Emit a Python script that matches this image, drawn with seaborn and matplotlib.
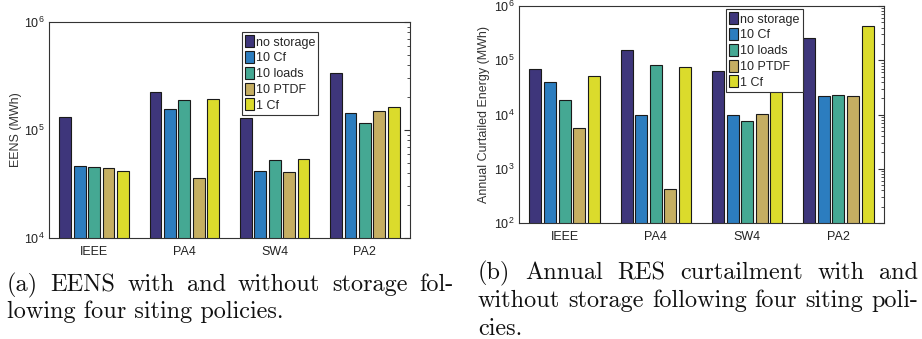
import numpy as np
import pandas as pd
import matplotlib
matplotlib.use("Agg")
import matplotlib.pyplot as plt
import seaborn as sns

# data
systems = ["IEEE", "PA4", "SW4", "PA2"]
policies = ["no storage", "10 Cf", "10 loads", "10 PTDF", "1 Cf"]
colors = ["#352A87", "#1480D7", "#35B89C", "#D5B752", "#F8F80F"]

eens_no_storage = [1.33e5, 2.24e5, 1.28e5, 3.36e5]
eens_10cf = [4.69e4, 1.57e5, 4.21e4, 1.44e5]
eens_10loads = [4.55e4, 1.91e5, 5.25e4, 1.15e5]
eens_10ptdf = [4.43e4, 3.58e4, 4.10e4, 1.50e5]
eens_1cf = [4.21e4, 1.92e5, 5.36e4, 1.65e5]

curt_no_storage = [6.83e4, 1.57e5, 6.28e4, 2.54e5]
curt_10cf = [4.05e4, 9.7e3, 9.7e3, 2.17e4]
curt_10loads = [1.84e4, 8.1e4, 7.65e3, 2.30e4]
curt_10ptdf = [5.53e3, 4.28e2, 1.04e4, 2.20e4]
curt_1cf = [5.08e4, 7.54e4, 2.73e4, 4.22e5]

caption_a = ["(a) EENS with and without storage fol-", "lowing four siting policies."]
caption_b = ["(b) Annual RES curtailment with and",
             "without storage following four siting poli-", "cies."]


def to_long(series):
    rows = []
    for pol, vals in zip(policies, series):
        for s, v in zip(systems, vals):
            rows.append({"system": s, "policy": pol, "value": v})
    return pd.DataFrame(rows)


eens = to_long([eens_no_storage, eens_10cf, eens_10loads, eens_10ptdf, eens_1cf])
curt = to_long([curt_no_storage, curt_10cf, curt_10loads, curt_10ptdf, curt_1cf])

sns.set_style("white")
plt.rcParams["font.family"] = ["Liberation Sans", "DejaVu Sans"]
plt.rcParams["mathtext.fontset"] = "custom"
plt.rcParams["mathtext.rm"] = "Liberation Sans"

fig = plt.figure(figsize=(9.22, 3.39), dpi=100)
ax1 = fig.add_axes([49 / 922, 1 - 238 / 339, 361 / 922, 216 / 339])
ax2 = fig.add_axes([519 / 922, 1 - 223 / 339, 365 / 922, 217 / 339])


def draw(ax, df, ylim, ylabel, leg_anchor):
    sns.barplot(data=df, x="system", y="value", hue="policy", hue_order=policies,
                palette=colors, width=0.8, gap=0.18, edgecolor="#1a1a1a",
                linewidth=0.8, ax=ax, legend=True)
    ax.set_yscale("log")
    ax.set_ylim(*ylim)
    ax.set_xlim(-0.5, 3.5)
    ax.set_xlabel("")
    ax.set_ylabel(ylabel, fontsize=9, color="#333333")
    ax.tick_params(axis="both", which="both", direction="in", top=True, right=True,
                   labelsize=9, colors="#333333", labelcolor="#222222")
    ax.tick_params(axis="both", which="major", length=4)
    ax.tick_params(axis="y", which="minor", length=2)
    ax.tick_params(axis="x", which="both", top=False, bottom=False, pad=6)
    for sp in ax.spines.values():
        sp.set_color("#333333")
        sp.set_linewidth(0.8)
    leg = ax.legend(loc="upper left", bbox_to_anchor=leg_anchor, fontsize=9,
                    handlelength=0.7, handleheight=1.1, handletextpad=0.15,
                    labelspacing=0.2, borderpad=0.25, borderaxespad=0,
                    fancybox=False, framealpha=1)
    leg.get_frame().set_edgecolor("#333333")
    leg.get_frame().set_linewidth(0.8)


draw(ax1, eens, (1e4, 1e6), "EENS (MWh)", (0.535, 0.952))
draw(ax2, curt, (1e2, 1e6), "Annual Curtailed Energy (MWh)", (0.568, 0.985))
ax1.yaxis.set_label_coords(-0.075, 0.5)
ax2.yaxis.set_label_coords(-0.08, 0.5)

# captions, justified like the LaTeX source
renderer = fig.canvas.get_renderer()
cap = dict(fontsize=17.5, family="cmr10", va="center", ha="left", color="#111111")


def caption(lines, x0, x1, y0, dy):
    for i, line in enumerate(lines):
        y = 1 - (y0 + i * dy) / 339
        if i == len(lines) - 1:
            fig.text(x0 / 922, y, line, **cap)
            continue
        words = line.split(" ")
        texts = [fig.text(0, y, w, **cap) for w in words]
        widths = [t.get_window_extent(renderer).width for t in texts]
        space = (x1 - x0 - sum(widths)) / (len(words) - 1)
        x = x0
        for t, w in zip(texts, widths):
            t.set_x(x / 922)
            x += w + space


caption(caption_a, 7, 454, 285, 27)
caption(caption_b, 478, 918, 273, 28)

fig.savefig("out.png", dpi=100)
